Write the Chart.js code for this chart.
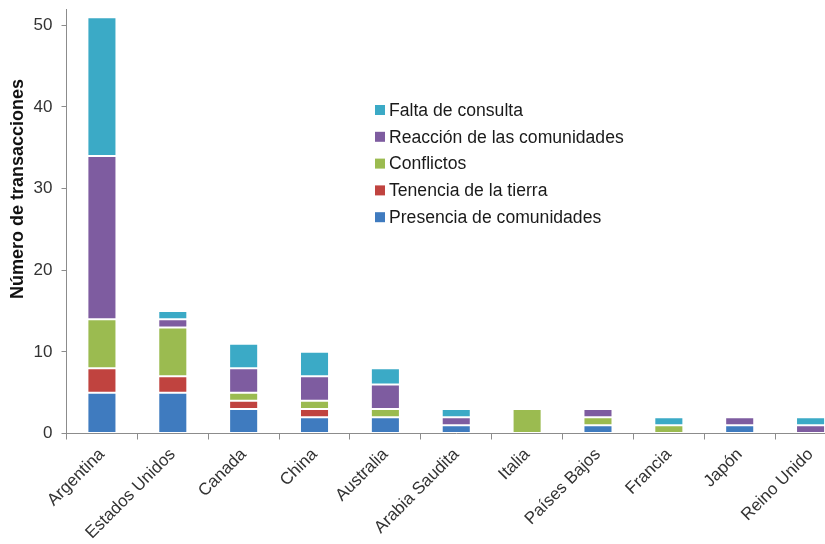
<!DOCTYPE html>
<html>
<head>
<meta charset="utf-8">
<script src="https://cdn.jsdelivr.net/npm/chart.js@4/dist/chart.umd.min.js"></script>
<style>
  html, body { margin: 0; padding: 0; background: #fff; overflow: hidden; }
  #wrap { width: 860px; height: 544px; }
</style>
</head>
<body>
<div id="wrap"><canvas id="c" width="860" height="544"></canvas></div>
<script>
// Countries on the category axis
const countries = ['Argentina', 'Estados Unidos', 'Canada', 'China', 'Australia',
  'Arabia Saudita', 'Italia', 'Países Bajos', 'Francia', 'Japón', 'Reino Unido'];

// Number of transactions per country, by issue (stacked bottom to top)
const presencia  = [5, 5, 3, 2, 2, 1, 0, 1, 0, 1, 0];
const tenencia   = [3, 2, 1, 1, 0, 0, 0, 0, 0, 0, 0];
const conflictos = [6, 6, 1, 1, 1, 0, 3, 1, 1, 0, 0];
const reaccion   = [20, 1, 3, 3, 3, 1, 0, 1, 0, 1, 1];
const falta      = [17, 1, 3, 3, 2, 1, 0, 0, 1, 0, 1];

const seriesNames = ['Presencia de comunidades', 'Tenencia de la tierra', 'Conflictos',
  'Reacción de las comunidades', 'Falta de consulta'];
const yTicks = [0, 10, 20, 30, 40, 50];
const yTitle = 'Número de transacciones';

const colors = ['#3f7bbf', '#c0433f', '#9bbb50', '#7e5ca0', '#3baac6'];
const values = [presencia, tenencia, conflictos, reaccion, falta];

const datasets = seriesNames.map((name, i) => ({
  label: name,
  data: values[i],
  backgroundColor: colors[i],
  borderColor: 'rgba(255,255,255,0.18)',
  borderWidth: 1,
  borderSkipped: false,
  barPercentage: 0.41,
  categoryPercentage: 1.0
}));

const FONT = '"Liberation Sans", Arial, sans-serif';

// Legend drawn inside the plot area, top series first
const insideLegend = {
  id: 'insideLegend',
  afterDraw(chart, args, opts) {
    const ctx = chart.ctx;
    const ds = chart.data.datasets.slice().reverse();
    ctx.save();
    ctx.font = opts.fontSize + 'px ' + FONT;
    ctx.textBaseline = 'middle';
    ds.forEach((d, i) => {
      const y = opts.y + i * opts.rowGap;
      ctx.fillStyle = d.backgroundColor;
      ctx.fillRect(opts.x, y - opts.box / 2, opts.box, opts.box);
      ctx.fillStyle = '#1a1a1a';
      ctx.fillText(d.label, opts.x + opts.box + 4, y + 1);
    });
    ctx.restore();
  }
};

// Vertical axis title, placed beside the value axis
const axisTitle = {
  id: 'axisTitle',
  afterDraw(chart, args, opts) {
    const ctx = chart.ctx;
    ctx.save();
    ctx.translate(opts.x, opts.y);
    ctx.rotate(-Math.PI / 2);
    ctx.font = 'bold ' + opts.fontSize + 'px ' + FONT;
    ctx.fillStyle = '#111';
    ctx.textAlign = 'center';
    ctx.textBaseline = 'middle';
    ctx.fillText(opts.text, 0, 0);
    ctx.restore();
  }
};

new Chart(document.getElementById('c'), {
  type: 'bar',
  data: { labels: countries, datasets },
  plugins: [insideLegend, axisTitle],
  options: {
    responsive: false,
    animation: false,
    layout: { padding: { left: 0, right: 14, top: 9, bottom: 0 } },
    plugins: {
      legend: { display: false },
      tooltip: { enabled: false },
      insideLegend: { x: 375, y: 110, rowGap: 26.8, box: 10, fontSize: 17.6 },
      axisTitle: { text: yTitle, x: 18, y: 189, fontSize: 18 }
    },
    scales: {
      x: {
        stacked: true,
        grid: { display: true, drawOnChartArea: false, offset: true, color: '#8c8c8c', tickLength: 6 },
        border: { color: '#8c8c8c', width: 1 },
        ticks: {
          autoSkip: false, minRotation: 45, maxRotation: 45,
          color: '#333', font: { family: FONT, size: 17 }, padding: 5
        },
        afterFit(scale) { scale.height = 110.5; scale.paddingLeft = 0; scale.paddingRight = 0; }
      },
      y: {
        stacked: true,
        min: 0, max: 52,
        grid: { display: true, drawOnChartArea: false, color: '#8c8c8c', tickLength: 5 },
        border: { color: '#8c8c8c', width: 1 },
        ticks: {
          stepSize: 10, color: '#333', padding: 9,
          font: { family: FONT, size: 17 }
        },
        afterBuildTicks(scale) { scale.ticks = yTicks.map(v => ({ value: v })); },
        afterFit(scale) { scale.width = 66.5; scale.paddingTop = 0; scale.paddingBottom = 0; }
      }
    }
  }
});
</script>
</body>
</html>
